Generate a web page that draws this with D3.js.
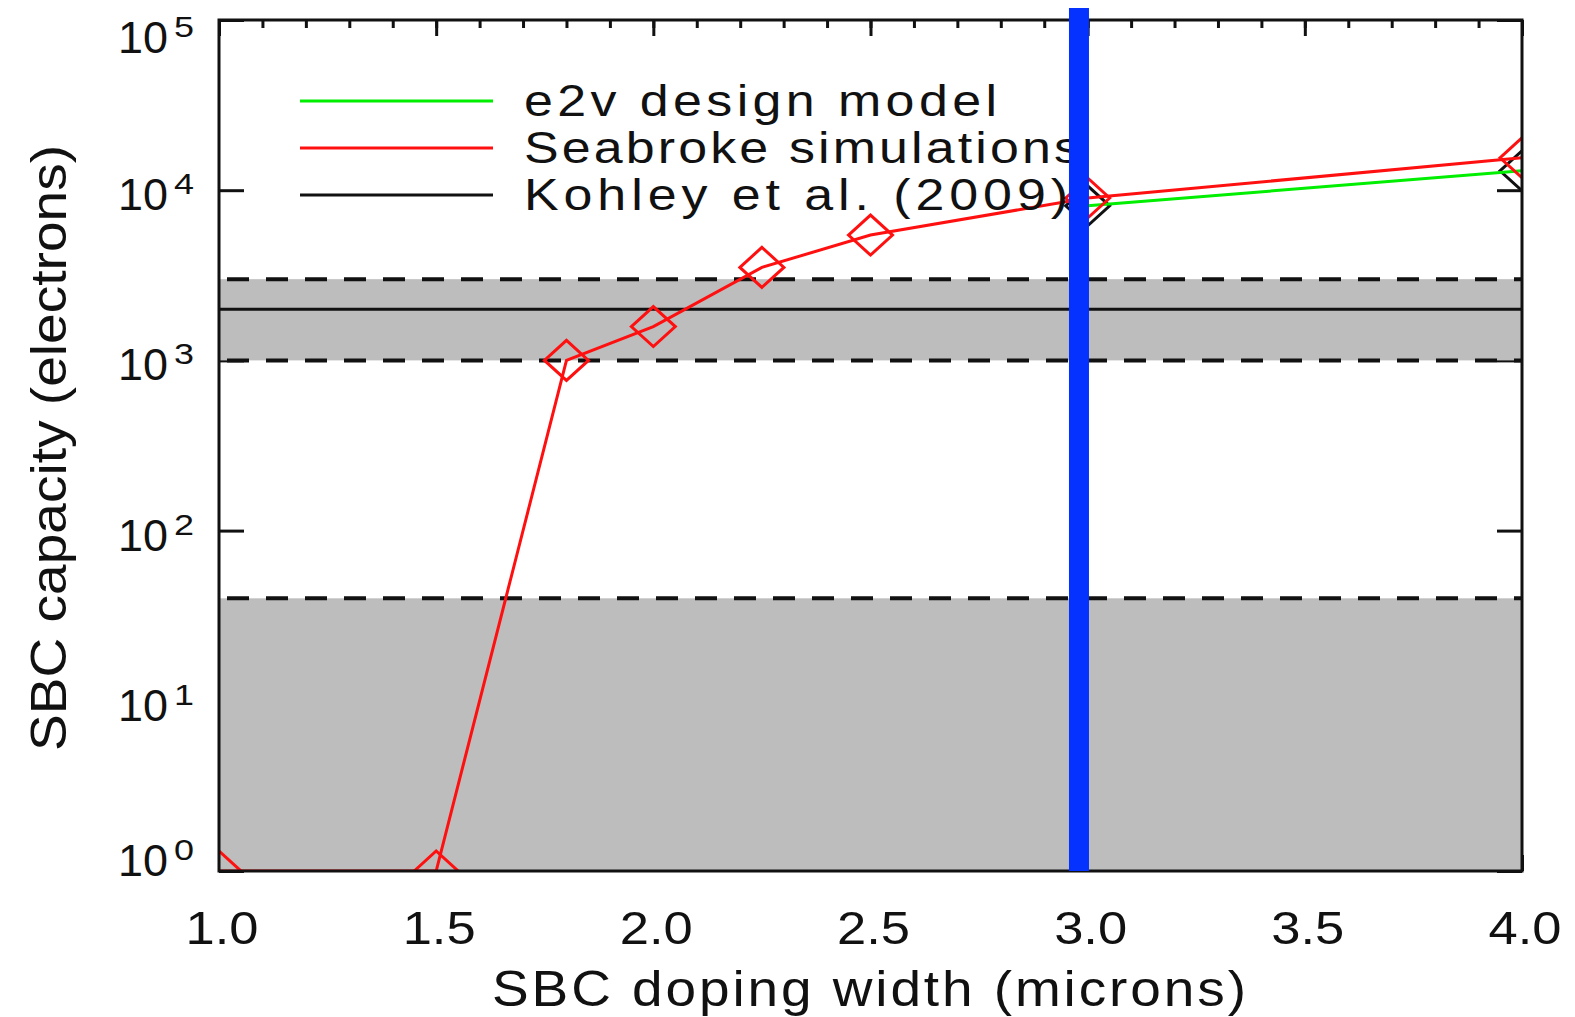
<!DOCTYPE html>
<html>
<head>
<meta charset="utf-8">
<script src="https://cdn.jsdelivr.net/npm/d3@7"></script>
<style>
  html, body { margin: 0; padding: 0; background: #fff; }
  svg { display: block; }
  text { font-family: "Liberation Sans", Arial, sans-serif; fill: #111; }
</style>
</head>
<body>
<svg id="chart" width="1575" height="1017"></svg>
<script>
// SBC doping width (microns) vs. SBC capacity (electrons)
const seabrokeWidths = [1.0, 1.5, 1.8, 2.0, 2.25, 2.5, 3.0, 4.0];
const seabrokeCapacity = [1, 1, 1000, 1580, 3520, 5450, 9000, 15500];
const e2vWidths = [3.0, 4.0];
const e2vCapacity = [8100, 13000];
const kohleyCapacity = 2000;
const kohleyRange = [1000, 3000];
const floorRange = [1, 40];
const chosenWidth = 2.98;

const xTickValues = [1.0, 1.5, 2.0, 2.5, 3.0, 3.5, 4.0];
const xTickLabels = ["1.0", "1.5", "2.0", "2.5", "3.0", "3.5", "4.0"];
const xMinorValues = d3.range(10, 41).map(d => d / 10);
const yTickValues = [1, 10, 100, 1000, 10000, 100000];
const yTickExponents = ["0", "1", "2", "3", "4", "5"];

const legendLabels = ["e2v design model", "Seabroke simulations", "Kohley et al. (2009)"];
const legendColors = ["#00ee00", "#ff1010", "#111111"];

const plot = { left: 219, right: 1522, top: 20, bottom: 871 };

const svg = d3.select("#chart");
const x = d3.scaleLinear().domain([1, 4]).range([plot.left, plot.right]);
const y = d3.scaleLog().domain([1, 1e5]).range([plot.bottom, plot.top]);

svg.append("defs").append("clipPath").attr("id", "plotClip")
  .append("rect")
  .attr("x", plot.left).attr("y", plot.top)
  .attr("width", plot.right - plot.left).attr("height", plot.bottom - plot.top);

// text with slightly widened glyphs, spread to a given overall width
function wideText(parent, transform, str, size, width, sx) {
  return parent.append("g").attr("transform", `${transform} scale(${sx},1)`)
    .append("text")
    .attr("font-size", size)
    .attr("textLength", width / sx).attr("lengthAdjust", "spacing")
    .text(str);
}

// tick marks (drawn first so the shaded bands sit over them)
const tickStyle = g => {
  g.select(".domain").remove();
  g.selectAll(".tick line").attr("stroke", "#111").attr("stroke-width", 3);
  g.selectAll(".tick text").remove();
};
svg.append("g").attr("transform", `translate(0,${plot.top})`)
  .call(d3.axisTop(x).tickValues(xMinorValues).tickSize(-8)).call(tickStyle);
svg.append("g").attr("transform", `translate(0,${plot.top})`)
  .call(d3.axisTop(x).tickValues(xTickValues).tickSize(-16)).call(tickStyle);
svg.append("g").attr("transform", `translate(0,${plot.bottom})`)
  .call(d3.axisBottom(x).tickValues(xTickValues).tickSize(-16)).call(tickStyle);
svg.append("g").attr("transform", `translate(${plot.left},0)`)
  .call(d3.axisLeft(y).tickValues(yTickValues).tickSize(-25)).call(tickStyle);
svg.append("g").attr("transform", `translate(${plot.right},0)`)
  .call(d3.axisRight(y).tickValues(yTickValues).tickSize(-25)).call(tickStyle);

// shaded bands
const bands = svg.append("g");
[floorRange, kohleyRange].forEach(r => {
  bands.append("rect")
    .attr("x", plot.left).attr("width", plot.right - plot.left)
    .attr("y", y(r[1])).attr("height", y(r[0]) - y(r[1]))
    .attr("fill", "#bdbdbd");
});

// dashed band edges and the Kohley level
[floorRange[1], kohleyRange[0], kohleyRange[1]].forEach(v => {
  bands.append("line")
    .attr("x1", plot.left).attr("x2", plot.right)
    .attr("y1", y(v)).attr("y2", y(v))
    .attr("stroke", "#111").attr("stroke-width", 4)
    .attr("stroke-dasharray", "22,17").attr("stroke-dashoffset", -8);
});
bands.append("line")
  .attr("x1", plot.left).attr("x2", plot.right)
  .attr("y1", y(kohleyCapacity)).attr("y2", y(kohleyCapacity))
  .attr("stroke", "#111").attr("stroke-width", 3);

// data
const data = svg.append("g").attr("clip-path", "url(#plotClip)");
const line = d3.line().x(d => x(d[0])).y(d => y(d[1]));
const diamond = (cx, cy) => `M${cx - 22},${cy}L${cx},${cy - 20}L${cx + 22},${cy}L${cx},${cy + 20}Z`;

const e2v = d3.zip(e2vWidths, e2vCapacity);
const seabroke = d3.zip(seabrokeWidths, seabrokeCapacity);

data.selectAll(".e2vMark").data(e2v).join("path")
  .attr("d", d => diamond(x(d[0]), y(d[1])))
  .attr("fill", "none").attr("stroke", "#111").attr("stroke-width", 3);
data.append("path").datum(e2v).attr("d", line)
  .attr("fill", "none").attr("stroke", legendColors[0]).attr("stroke-width", 3);
data.append("path").datum(seabroke).attr("d", line)
  .attr("fill", "none").attr("stroke", legendColors[1]).attr("stroke-width", 3);
data.selectAll(".sbMark").data(seabroke).join("path")
  .attr("d", d => diamond(x(d[0]), y(d[1])))
  .attr("fill", "none").attr("stroke", legendColors[1]).attr("stroke-width", 3);

// frame
svg.append("rect")
  .attr("x", plot.left).attr("y", plot.top)
  .attr("width", plot.right - plot.left).attr("height", plot.bottom - plot.top)
  .attr("fill", "none").attr("stroke", "#111").attr("stroke-width", 3);

// x tick labels
svg.append("g").selectAll("text").data(xTickValues).join("text")
  .attr("x", d => x(d) + 3).attr("y", 944)
  .attr("text-anchor", "middle")
  .attr("font-size", 47)
  .attr("textLength", 73).attr("lengthAdjust", "spacingAndGlyphs")
  .text((d, i) => xTickLabels[i]);

// y tick labels: 10 with a raised exponent
const yLab = svg.append("g");
yTickValues.forEach((v, i) => {
  const base = Math.min(Math.max(y(v) + 20, 53), 876);
  yLab.append("text")
    .attr("x", 118).attr("y", base)
    .attr("font-size", 45)
    .attr("textLength", 50).attr("lengthAdjust", "spacingAndGlyphs")
    .text("10");
  yLab.append("text")
    .attr("x", 174).attr("y", base - 16)
    .attr("font-size", 30)
    .attr("textLength", 20).attr("lengthAdjust", "spacingAndGlyphs")
    .text(yTickExponents[i]);
});

// axis titles
wideText(svg, "translate(492,1006)", "SBC doping width (microns)", 50, 754, 1.1);
wideText(svg, "translate(66,751) rotate(-90)", "SBC capacity (electrons)", 50, 606, 1.1);

// legend
const legendY = [101, 148, 195];
const legendWidths = [473, 556, 544];
const legend = svg.append("g");
legendLabels.forEach((label, i) => {
  legend.append("line")
    .attr("x1", 300).attr("x2", 493)
    .attr("y1", legendY[i]).attr("y2", legendY[i])
    .attr("stroke", legendColors[i]).attr("stroke-width", 3);
  wideText(legend, `translate(524,${legendY[i] + 15})`, label, 44, legendWidths[i], 1.18);
});

// vertical marker at the chosen doping width
svg.append("line")
  .attr("x1", x(chosenWidth)).attr("x2", x(chosenWidth))
  .attr("y1", 8).attr("y2", plot.bottom)
  .attr("stroke", "#0632ff").attr("stroke-width", 20);
</script>
</body>
</html>
